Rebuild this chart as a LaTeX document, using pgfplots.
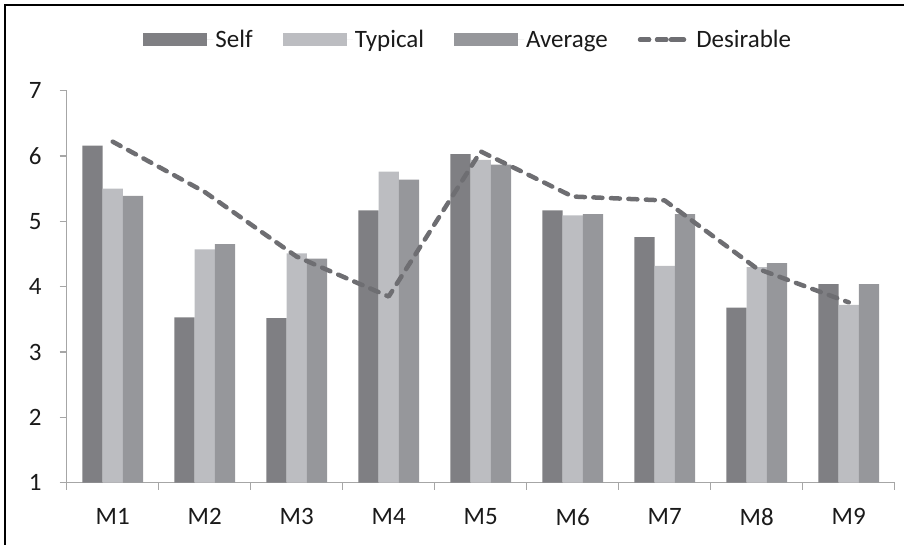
\documentclass[border=0pt]{standalone}
\usepackage{fontspec}
\setmainfont{Carlito}
\usepackage{pgfplots}
\pgfplotsset{compat=1.18}
\definecolor{cself}{HTML}{7F7F83}
\definecolor{ctyp}{HTML}{BCBDC1}
\definecolor{cavg}{HTML}{96979B}
\definecolor{cline}{HTML}{6E6E72}
\definecolor{caxis}{HTML}{A6A6A6}
\definecolor{ctext}{HTML}{1A1A1A}
\begin{document}
\begin{tikzpicture}
\useasboundingbox (-66.7pt,-62.3pt) rectangle (837.3pt,482.7pt);
\draw[line width=2pt, black] (-61.7pt,-80pt) -- (-61.7pt,477.7pt) -- (860pt,477.7pt);
\begin{axis}[
  scale only axis, width=828pt, height=392pt,
  xmin=-0.5, xmax=8.5, ymin=1, ymax=7,
  ybar=0pt, bar width=0.22,
  axis lines*=left,
  axis line style={caxis, line width=1.3pt},
  xtick={-0.5,0.5,1.5,2.5,3.5,4.5,5.5,6.5,7.5,8.5},
  x tick label as interval,
  xticklabels={M1,M2,M3,M4,M5,M6,M7,M8,M9},
  ytick={1,2,3,4,5,6,7},
  tick align=outside,
  major tick length=7pt,
  tick style={caxis, line width=1.3pt},
  /pgf/number format/assume math mode=true,
  ticklabel style={font=\fontsize{25}{30}\selectfont, text=ctext},
  yticklabel style={xshift=-14.5pt},
  xticklabel style={yshift=-15.5pt},
  legend style={at={(0.485,1.13)}, anchor=center, draw=none, fill=none,
    font=\fontsize{25}{30}\selectfont, text=ctext,
    /tikz/every even column/.append style={column sep=28pt},
    nodes={inner sep=2pt}},
  legend columns=4,
  legend cell align=left,
]
\addplot[fill=cself, draw=none, legend image code/.code={\fill[cself] (0pt,-6.7pt) rectangle (64pt,6.7pt); \path (0pt,0pt) -- (70pt,0pt);}]
  coordinates {(0,6.16) (1,3.53) (2,3.52) (3,5.17) (4,6.03) (5,5.17) (6,4.76) (7,3.68) (8,4.04)};
\addplot[fill=ctyp, draw=none, legend image code/.code={\fill[ctyp] (0pt,-6.7pt) rectangle (64pt,6.7pt); \path (0pt,0pt) -- (70pt,0pt);}]
  coordinates {(0,5.50) (1,4.57) (2,4.51) (3,5.76) (4,5.94) (5,5.09) (6,4.32) (7,4.30) (8,3.72)};
\addplot[fill=cavg, draw=none, legend image code/.code={\fill[cavg] (0pt,-6.7pt) rectangle (64pt,6.7pt); \path (0pt,0pt) -- (70pt,0pt);}]
  coordinates {(0,5.39) (1,4.65) (2,4.43) (3,5.64) (4,5.87) (5,5.11) (6,5.11) (7,4.36) (8,4.04)};
\addplot[sharp plot, cline, line width=4.5pt, dash pattern=on 9pt off 8.5pt, line cap=round, line join=round,
  legend image code/.code={
    \draw[cline, solid, line width=4.5pt, line cap=round] (3pt,0pt) -- (9pt,0pt);
    \draw[cline, solid, line width=4.5pt, line cap=round] (17pt,0pt) -- (23pt,0pt);
    \draw[cline, solid, line width=4.5pt, line cap=round] (31pt,0pt) -- (37pt,0pt);
    \path (0pt,0pt) -- (52pt,0pt);}]
  coordinates {(0,6.22) (1,5.45) (2,4.46) (3,3.85) (4,6.07) (5,5.38) (6,5.32) (7,4.28) (8,3.76)};
\legend{Self,Typical,Average,Desirable}
\end{axis}
\end{tikzpicture}
\end{document}
